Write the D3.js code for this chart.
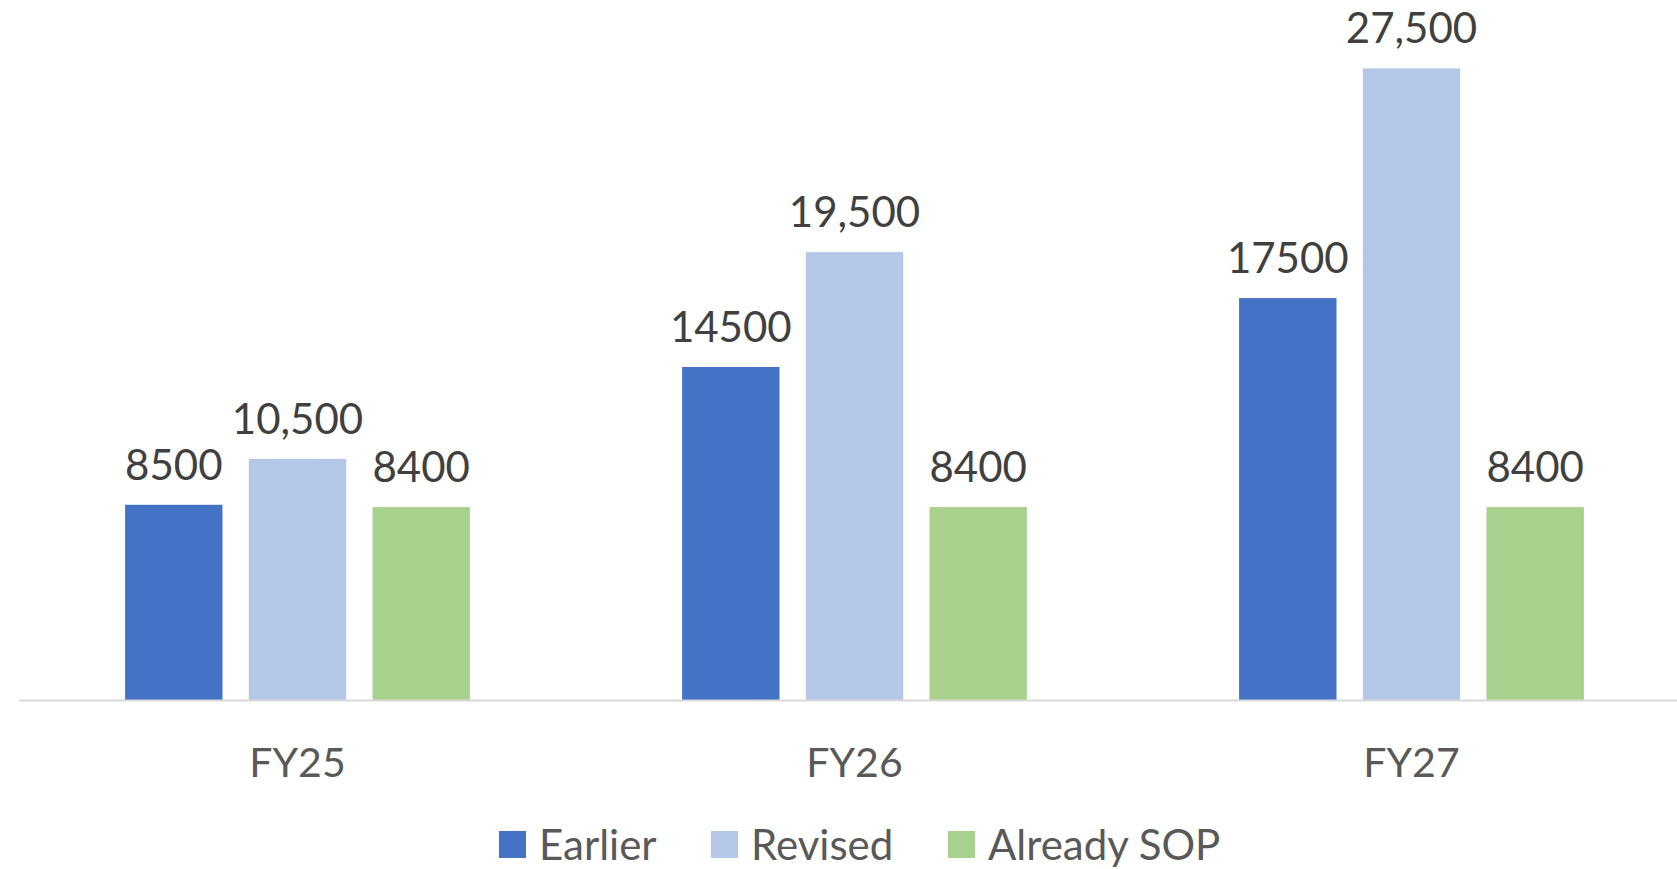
<!DOCTYPE html>
<html>
<head>
<meta charset="utf-8">
<script src="https://cdn.jsdelivr.net/npm/d3@7"></script>
<style>
  html, body { margin: 0; padding: 0; background: #fff; }
  svg { display: block; }
  text { font-family: Lato, "Open Sans", sans-serif; }
</style>
</head>
<body>
<svg width="1677" height="869"></svg>
<script>
// data
const categories = ["FY25", "FY26", "FY27"];
const seriesNames = ["Earlier", "Revised", "Already SOP"];
const earlier = [8500, 14500, 17500];
const revised = [10500, 19500, 27500];
const alreadySop = [8400, 8400, 8400];
// labels as written on the chart
const earlierLabels = ["8500", "14500", "17500"];
const revisedLabels = ["10,500", "19,500", "27,500"];
const sopLabels = ["8400", "8400", "8400"];

const colors = ["#4472C4", "#B4C7E7", "#A9D18E"];
const allValues = [earlier, revised, alreadySop];
const allLabels = [earlierLabels, revisedLabels, sopLabels];

const svg = d3.select("svg");

const x0 = d3.scaleBand()
  .domain(categories)
  .range([19, 1690])
  .paddingInner(0.381)
  .paddingOuter(0.1905);

const x1 = d3.scaleBand()
  .domain(seriesNames)
  .range([0, x0.bandwidth()])
  .paddingInner(0.2126)
  .paddingOuter(0);

const y = d3.scaleLinear()
  .domain([0, 30000])
  .range([700, 11]);

// bars
const rows = [];
categories.forEach((c, i) => {
  seriesNames.forEach((s, j) => {
    rows.push({cat: c, ser: s, v: allValues[j][i], lab: allLabels[j][i], col: colors[j]});
  });
});

svg.append("g").selectAll("rect")
  .data(rows)
  .join("rect")
  .attr("x", d => x0(d.cat) + x1(d.ser))
  .attr("y", d => y(d.v))
  .attr("width", x1.bandwidth())
  .attr("height", d => y(0) - y(d.v))
  .attr("fill", d => d.col);

// data labels
svg.append("g").selectAll("text")
  .data(rows)
  .join("text")
  .attr("x", d => x0(d.cat) + x1(d.ser) + x1.bandwidth() / 2)
  .attr("y", d => y(d.v) - 25)
  .attr("text-anchor", "middle")
  .attr("font-size", 42)
  .attr("fill", "#404040")
  .text(d => d.lab);

// baseline
svg.append("line")
  .attr("x1", 19).attr("x2", 1677)
  .attr("y1", y(0) + 0.5).attr("y2", y(0) + 0.5)
  .attr("stroke", "#d9d9d9")
  .attr("stroke-width", 2);

// category axis labels
const xAxis = d3.axisBottom(x0).tickSize(0).tickPadding(0);
const gx = svg.append("g")
  .attr("transform", `translate(0,${y(0)})`)
  .call(xAxis);
gx.select(".domain").remove();
gx.selectAll("text")
  .attr("dy", null)
  .attr("y", 77)
  .attr("font-size", 41)
  .attr("font-family", "Lato, 'Open Sans', sans-serif")
  .attr("fill", "#595959");

// legend
const legendX = [499, 711, 948];
const leg = svg.append("g");
seriesNames.forEach((s, j) => {
  leg.append("rect")
    .attr("x", legendX[j]).attr("y", 831)
    .attr("width", 27).attr("height", 27)
    .attr("fill", colors[j]);
  leg.append("text")
    .attr("x", legendX[j] + 40).attr("y", 860)
    .attr("font-size", 42)
    .attr("fill", "#595959")
    .text(s);
});
</script>
</body>
</html>
